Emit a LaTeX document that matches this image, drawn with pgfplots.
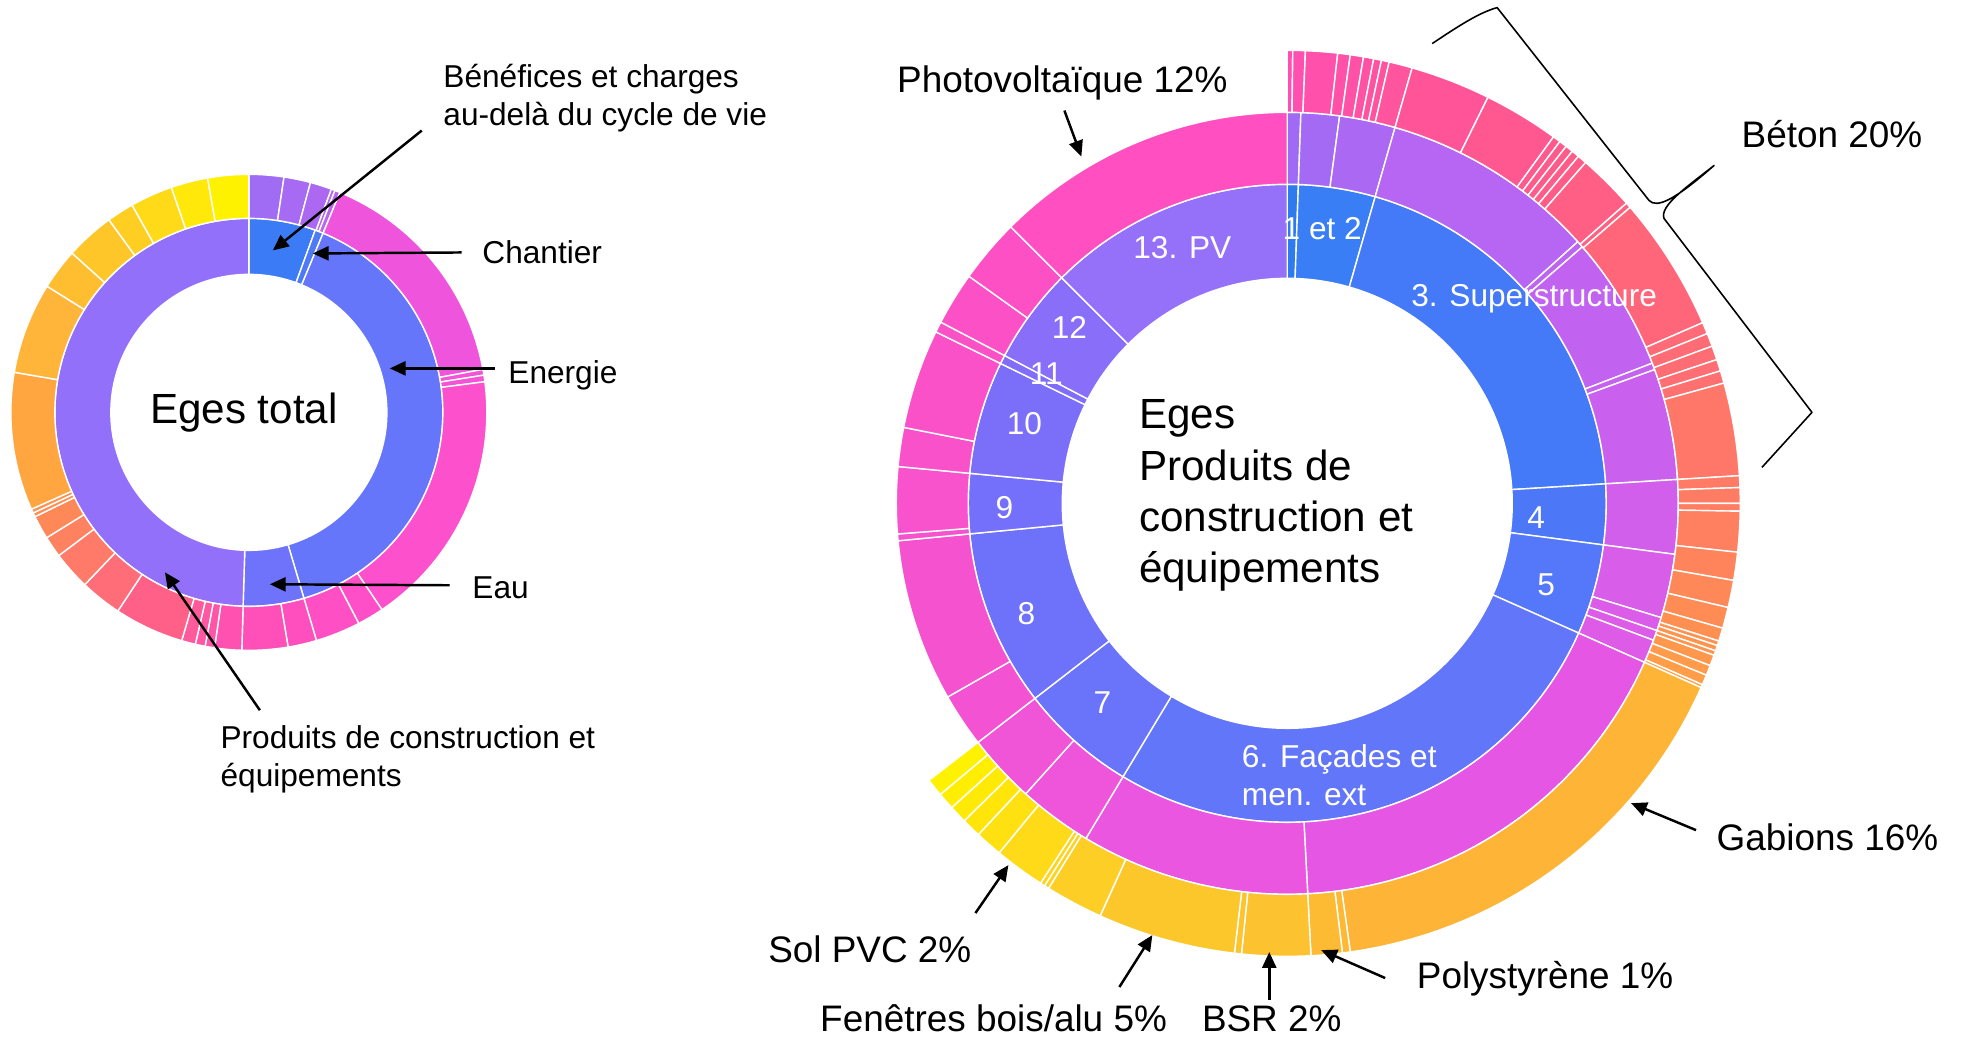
\documentclass[border=0pt]{standalone}
\usepackage{pgfplots}
\pgfplotsset{compat=1.18}
\usepackage{fontspec}
\setmainfont{Liberation Sans}
\usetikzlibrary{calc,arrows.meta}
% wedge: #1 inner radius (cm), #2 outer radius (cm), #3 start, #4 end (degrees clockwise from top), #5 colour (HTML)
\newcommand\segR[5]{\pgfplotsextra{\definecolor{segc}{HTML}{#5}\fill[segc,draw=white,line width=0.4pt,line join=round]
 ($(axis cs:1288,503)+({90-(#3)}:#2cm)$) arc[start angle={90-(#3)},end angle={90-(#4)},radius=#2cm]
 -- ($(axis cs:1288,503)+({90-(#4)}:#1cm)$) arc[start angle={90-(#4)},end angle={90-(#3)},radius=#1cm] -- cycle;}}
\newcommand\segL[5]{\pgfplotsextra{\definecolor{segc}{HTML}{#5}\fill[segc,draw=white,line width=0.4pt,line join=round]
 ($(axis cs:249,412)+({90-(#3)}:#2cm)$) arc[start angle={90-(#3)},end angle={90-(#4)},radius=#2cm]
 -- ($(axis cs:249,412)+({90-(#4)}:#1cm)$) arc[start angle={90-(#4)},end angle={90-(#3)},radius=#1cm] -- cycle;}}
\begin{document}
\begin{tikzpicture}[
 lab/.style={font=\fontsize{10.5}{12.6}\selectfont,anchor=base west,inner sep=0pt},
 labs/.style={font=\fontsize{9}{11}\selectfont,anchor=base west,inner sep=0pt},
 rl/.style={font=\fontsize{9}{11}\selectfont,text=white,inner sep=0pt},
 ttl/.style={font=\fontsize{12}{14.5}\selectfont,anchor=base west,inner sep=0pt},
 arr/.style={-{Triangle[length=4.5pt,width=4pt]},line width=0.7pt}]
\path[use as bounding box] (0,0) rectangle (19.67,10.37);
\begin{axis}[hide axis, scale only axis, x=0.01cm, y=0.01cm, y dir=reverse,
  xmin=0, xmax=1967, ymin=0, ymax=1037, clip=false, at={(0,0)}, anchor=south west]
% ===== Left sunburst: Eges total =====
% inner ring
\segL{1.38}{1.94}{0}{20}{3B7CF6}
\segL{1.38}{1.94}{20}{22.5}{4F7AF7}
\segL{1.38}{1.94}{22.5}{163.5}{6676FB}
\segL{1.38}{1.94}{163.5}{181.7}{6F73FB}
\segL{1.38}{1.94}{181.7}{360}{9370FA}
% outer ring
\segL{1.94}{2.38}{0}{8.5}{A16CF4}
\segL{1.94}{2.38}{8.5}{15}{A76AF3}
\segL{1.94}{2.38}{15}{20.3}{AD68F2}
\segL{1.94}{2.38}{20.3}{21.2}{B266F0}
\segL{1.94}{2.38}{21.2}{22.5}{B865EF}
\segL{1.94}{2.38}{22.5}{79.6}{EE55DC}
\segL{1.94}{2.38}{79.6}{81}{F154D6}
\segL{1.94}{2.38}{81}{82.6}{F353D4}
\segL{1.94}{2.38}{82.6}{146}{FD50CC}
\segL{1.94}{2.38}{146}{152.5}{FF4FC8}
\segL{1.94}{2.38}{152.5}{163.5}{FF4FC4}
\segL{1.94}{2.38}{163.5}{170.5}{FF4FBF}
\segL{1.94}{2.38}{170.5}{181.7}{FF4FB9}
\segL{1.94}{2.38}{181.7}{188.3}{FF52B0}
\segL{1.94}{2.38}{188.3}{190.6}{FF55A8}
\segL{1.94}{2.38}{190.6}{193}{FF57A3}
\segL{1.94}{2.38}{193}{196.4}{FF5A9C}
\segL{1.94}{2.38}{196.4}{213.4}{FF6088}
\segL{1.94}{2.38}{213.4}{223.6}{FF6D78}
\segL{1.94}{2.38}{223.6}{233}{FF7A68}
\segL{1.94}{2.38}{233}{238.2}{FF8260}
\segL{1.94}{2.38}{238.2}{244}{FF8858}
\segL{1.94}{2.38}{244}{245}{FF8E52}
\segL{1.94}{2.38}{245}{246}{FF9250}
\segL{1.94}{2.38}{246}{279.7}{FFA640}
\segL{1.94}{2.38}{279.7}{302}{FFB43A}
\segL{1.94}{2.38}{302}{312}{FFBE30}
\segL{1.94}{2.38}{312}{324}{FFC62A}
\segL{1.94}{2.38}{324}{330.6}{FFCE22}
\segL{1.94}{2.38}{330.6}{341}{FFDA18}
\segL{1.94}{2.38}{341}{350}{FFE80A}
\segL{1.94}{2.38}{350}{360}{FFF200}
% ===== Right sunburst: products =====
% ring 1
\segR{2.25}{3.19}{0}{2}{2E7BF0}
\segR{2.25}{3.19}{2}{16}{3A7EF6}
\segR{2.25}{3.19}{16}{86.5}{4479F7}
\segR{2.25}{3.19}{86.5}{97.5}{4C78F8}
\segR{2.25}{3.19}{97.5}{114}{5577FA}
\segR{2.25}{3.19}{114}{211}{6276FA}
\segR{2.25}{3.19}{211}{232.3}{6A74FB}
\segR{2.25}{3.19}{232.3}{264.5}{6E72FB}
\segR{2.25}{3.19}{264.5}{275.4}{7570FB}
\segR{2.25}{3.19}{275.4}{296}{7B6FFA}
\segR{2.25}{3.19}{296}{297.6}{806EFA}
\segR{2.25}{3.19}{297.6}{315}{896EFA}
\segR{2.25}{3.19}{315}{360}{9570F9}
% ring 2
\segR{3.19}{3.91}{0}{2}{9F6BF4}
\segR{3.19}{3.91}{2}{7.7}{A56AF4}
\segR{3.19}{3.91}{7.7}{16}{AB68F3}
\segR{3.19}{3.91}{16}{48}{B666F2}
\segR{3.19}{3.91}{48}{49}{BB65F1}
\segR{3.19}{3.91}{49}{69}{C163F0}
\segR{3.19}{3.91}{69}{70}{C562EF}
\segR{3.19}{3.91}{70}{86.5}{CA61EE}
\segR{3.19}{3.91}{86.5}{97.5}{D25FEB}
\segR{3.19}{3.91}{97.5}{107}{D85DE9}
\segR{3.19}{3.91}{107}{109}{DA5CE8}
\segR{3.19}{3.91}{109}{110.5}{DC5CE8}
\segR{3.19}{3.91}{110.5}{114}{DE5BE7}
\segR{3.19}{3.91}{114}{177}{E656E4}
\segR{3.19}{3.91}{177}{211}{EA56E0}
\segR{3.19}{3.91}{211}{222}{EE55DA}
\segR{3.19}{3.91}{222}{232.3}{F054D7}
\segR{3.19}{3.91}{232.3}{240.3}{F353D3}
\segR{3.19}{3.91}{240.3}{264.5}{F552D0}
\segR{3.19}{3.91}{264.5}{265.5}{F652CE}
\segR{3.19}{3.91}{265.5}{275.4}{F852CC}
\segR{3.19}{3.91}{275.4}{281.2}{F951CA}
\segR{3.19}{3.91}{281.2}{296}{FA51C8}
\segR{3.19}{3.91}{296}{297.6}{FB51C7}
\segR{3.19}{3.91}{297.6}{305.5}{FC50C6}
\segR{3.19}{3.91}{305.5}{315}{FD50C4}
\segR{3.19}{3.91}{315}{360}{FF4FC0}
% ring 3
\segR{3.91}{4.53}{0}{0.7}{FF4FB2}
\segR{3.91}{4.53}{0.7}{2.3}{FF4FAF}
\segR{3.91}{4.53}{2.3}{6.4}{FF50AB}
\segR{3.91}{4.53}{6.4}{8}{FF51A8}
\segR{3.91}{4.53}{8}{9.7}{FF52A6}
\segR{3.91}{4.53}{9.7}{11}{FF52A4}
\segR{3.91}{4.53}{11}{12}{FF53A2}
\segR{3.91}{4.53}{12}{13}{FF53A0}
\segR{3.91}{4.53}{13}{16}{FF549E}
\segR{3.91}{4.53}{16}{26.3}{FF5598}
\segR{3.91}{4.53}{26.3}{36}{FF5890}
\segR{3.91}{4.53}{36}{37}{FF5A8D}
\segR{3.91}{4.53}{37}{38}{FF5A8C}
\segR{3.91}{4.53}{38}{39}{FF5B8A}
\segR{3.91}{4.53}{39}{40}{FF5C89}
\segR{3.91}{4.53}{40}{41.2}{FF5C88}
\segR{3.91}{4.53}{41.2}{48.5}{FF5F84}
\segR{3.91}{4.53}{48.5}{49.2}{FF6280}
\segR{3.91}{4.53}{49.2}{66.5}{FF667A}
\segR{3.91}{4.53}{66.5}{68}{FF6B76}
\segR{3.91}{4.53}{68}{69.7}{FF6C75}
\segR{3.91}{4.53}{69.7}{71.5}{FF6D74}
\segR{3.91}{4.53}{71.5}{73}{FF6E73}
\segR{3.91}{4.53}{73}{74.6}{FF7071}
\segR{3.91}{4.53}{74.6}{86.5}{FF7769}
\segR{3.91}{4.53}{86.5}{88}{FF7B65}
\segR{3.91}{4.53}{88}{90}{FF7C64}
\segR{3.91}{4.53}{90}{91}{FF7D63}
\segR{3.91}{4.53}{91}{96.2}{FF8060}
\segR{3.91}{4.53}{96.2}{99.8}{FF845C}
\segR{3.91}{4.53}{99.8}{103.3}{FF8858}
\segR{3.91}{4.53}{103.3}{106}{FF8C55}
\segR{3.91}{4.53}{106}{107.7}{FF9052}
\segR{3.91}{4.53}{107.7}{108.3}{FF9350}
\segR{3.91}{4.53}{108.3}{109}{FF944F}
\segR{3.91}{4.53}{109}{109.6}{FF954E}
\segR{3.91}{4.53}{109.6}{111}{FF984D}
\segR{3.91}{4.53}{111}{112.3}{FF9B4A}
\segR{3.91}{4.53}{112.3}{113.6}{FF9D48}
\segR{3.91}{4.53}{113.6}{114}{FFA046}
\segR{3.91}{4.53}{114}{172}{FDB437}
\segR{3.91}{4.53}{172}{173}{FDB934}
\segR{3.91}{4.53}{173}{177}{FDBB33}
\segR{3.91}{4.53}{177}{185.8}{FDC22F}
\segR{3.91}{4.53}{185.8}{186.7}{FDC42D}
\segR{3.91}{4.53}{186.7}{204.4}{FCC72A}
\segR{3.91}{4.53}{204.4}{211.8}{FDCE25}
\segR{3.91}{4.53}{211.8}{212.4}{FDD320}
\segR{3.91}{4.53}{212.4}{213}{FDD51F}
\segR{3.91}{4.53}{213}{219.5}{FEDA18}
\segR{3.91}{4.53}{219.5}{223}{FFE010}
\segR{3.91}{4.53}{223}{225.5}{FFE50A}
\segR{3.91}{4.53}{225.5}{227.8}{FFEA05}
\segR{3.91}{4.53}{227.8}{230}{FFEE02}
\segR{3.91}{4.53}{230}{232.3}{FFF200}
% ===== texts: left =====
\node[anchor=base,font=\fontsize{12}{14}\selectfont,inner sep=0pt] at (244,423) {Eges total};
\node[labs] at (443,87) {Bénéfices et charges};
\node[labs] at (443,125) {au-delà du cycle de vie};
\node[labs] at (482,263) {Chantier};
\node[labs] at (508,383) {Energie};
\node[labs] at (472,598) {Eau};
\node[labs] at (220,748) {Produits de construction et};
\node[labs] at (220,786) {équipements};
\draw[arr] (422,130) -- (273,250);
\draw[arr] (462,252) -- (313,253);
\draw[arr] (495,368) -- (390,368);
\draw[arr] (450,585) -- (270,584);
\draw[arr] (260,710) -- (165,572);
% ===== texts: right =====
\node[ttl] at (1139,428) {Eges};
\node[ttl] at (1139,480) {Produits de};
\node[ttl] at (1139,531) {construction et};
\node[ttl] at (1139,582) {équipements};
\node[rl] at (1183,247) {13. PV};
\node[rl] at (1323,228) {1 et 2};
\node[rl] at (1535,298) {3. Superstructure};
\node[rl] at (1537,517) {4};
\node[rl] at (1547,585) {5};
\node[rl,anchor=base west] at (1242,767) {6. Façades et};
\node[rl,anchor=base west] at (1242,805) {men. ext};
\node[rl] at (1103,702) {7};
\node[rl] at (1027,613) {8};
\node[rl] at (1005,507) {9};
\node[rl] at (1025,423) {10};
\node[rl] at (1047,373) {11};
\node[rl] at (1070,327) {12};
\node[lab] at (897,92) {Photovoltaïque 12\%};
\node[lab] at (1742,147) {Béton 20\%};
\node[lab] at (1717,850) {Gabions 16\%};
\node[lab] at (768,962) {Sol PVC 2\%};
\node[lab] at (820,1031) {Fenêtres bois/alu 5\%};
\node[lab] at (1202,1031) {BSR 2\%};
\node[lab] at (1417,988) {Polystyrène 1\%};
\draw[arr] (1065,110) -- (1082,156);
\draw[arr] (1697,830) -- (1632,803);
\draw[arr] (976,913) -- (1009,865);
\draw[arr] (1120,987) -- (1153,935);
\draw[arr] (1270,1000) -- (1270,952);
\draw[arr] (1386,978) -- (1322,950);
% brace
\draw[line width=0.45pt,line join=round] (1433,43) .. controls (1460,25) and (1480,12) .. (1498,7)
  -- (1650,200) .. controls (1658,208) and (1675,200) .. (1715,165)
  .. controls (1690,185) and (1660,205) .. (1665,218)
  -- (1813,412) -- (1763,467);
\end{axis}
\end{tikzpicture}
\end{document}
